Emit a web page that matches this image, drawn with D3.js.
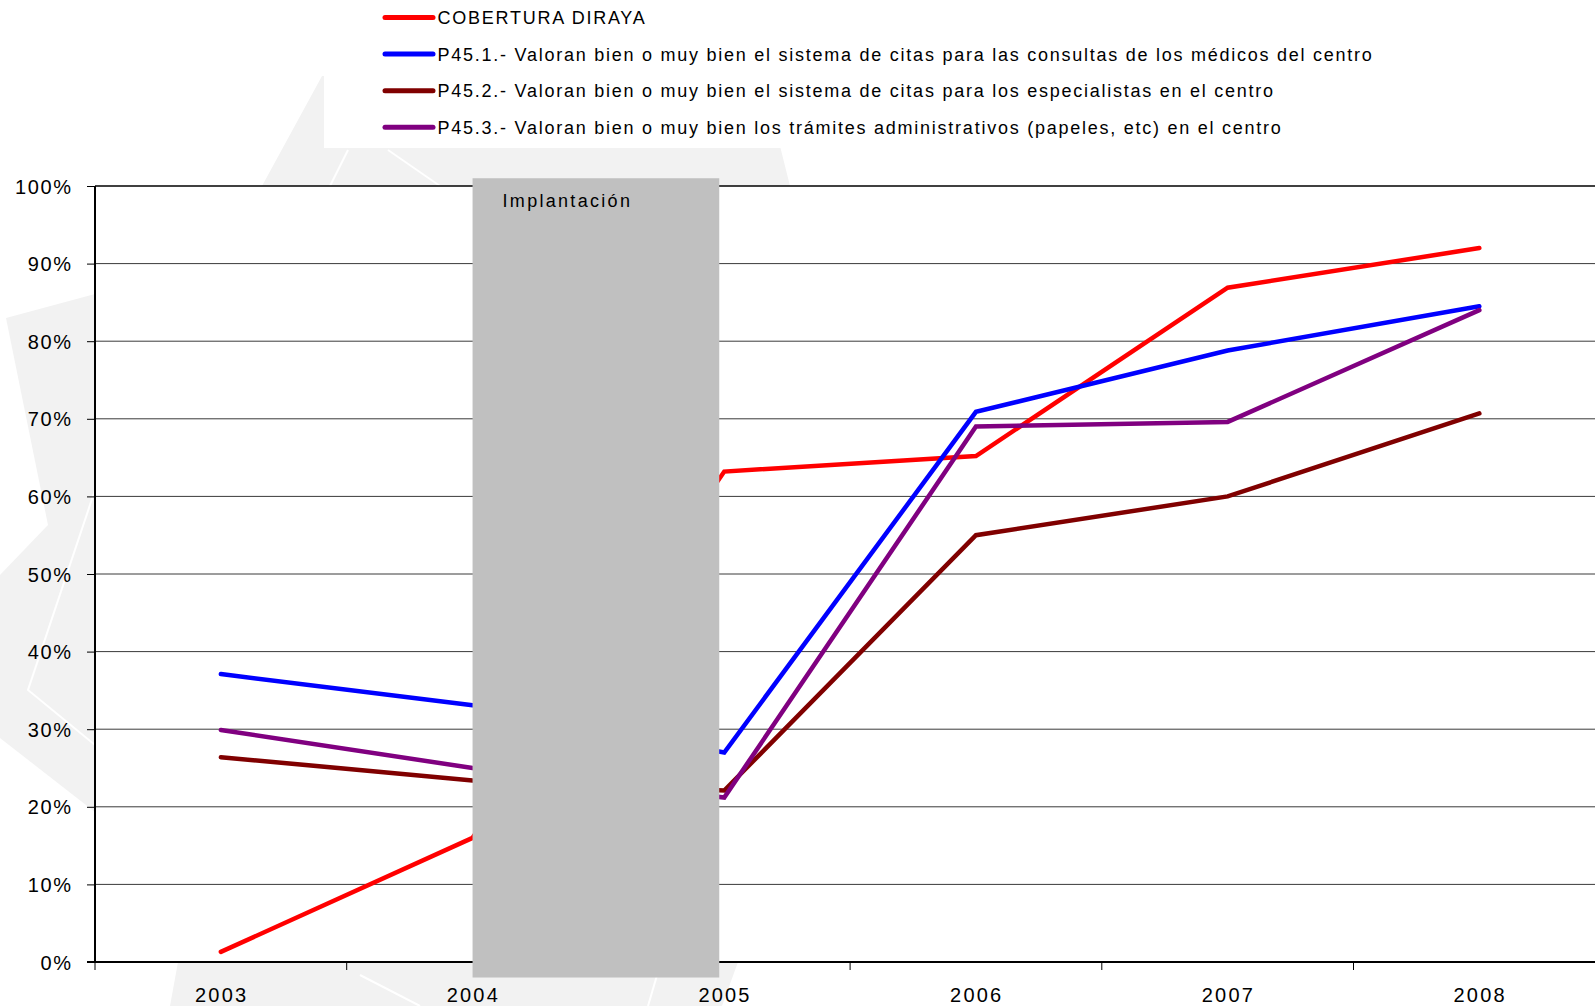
<!DOCTYPE html>
<html>
<head>
<meta charset="utf-8">
<script src="https://cdn.jsdelivr.net/npm/d3@7/dist/d3.min.js"></script>
<style>
  body { margin: 0; background: #fff; }
  svg { display: block; font-family: "Liberation Sans", Arial, sans-serif; }
</style>
</head>
<body>
<div id="chart"></div>
<script>
// data (percent)
const years = ["2003", "2004", "2005", "2006", "2007", "2008"];
const cobertura = [1.3, 16.0, 63.2, 65.2, 86.9, 92.0];
const p451 = [37.1, 33.1, 27.0, 70.9, 78.8, 84.5];
const p452 = [26.4, 23.4, 22.1, 55.0, 60.0, 70.7];
const p453 = [29.9, 25.0, 21.2, 69.0, 69.6, 84.0];

const seriesLabels = [
  "COBERTURA DIRAYA",
  "P45.1.- Valoran bien o muy bien el sistema de citas para las consultas de los médicos del centro",
  "P45.2.- Valoran bien o muy bien el sistema de citas para los especialistas en el centro",
  "P45.3.- Valoran bien o muy bien los trámites administrativos (papeles, etc) en el centro"
];
const seriesColors = ["#ff0000", "#0000ff", "#800000", "#800080"];

const yTicks = [0, 10, 20, 30, 40, 50, 60, 70, 80, 90, 100];

// grey "Implantación" block, spans 2004 -> 2005, from -2% to 101%
const implantYears = ["2004", "2005"];
const implantRange = [-2, 101];
const implantLabel = "Implantación";

const width = 1595;
const height = 1006;
const left = 95;
const step = 251.7;
const tickLs = 1.6;

const series = [cobertura, p451, p452, p453].map((vals, i) => ({
  name: seriesLabels[i],
  color: seriesColors[i],
  values: years.map((yr, j) => ({ year: yr, v: vals[j] }))
}));

const svg = d3.select("#chart")
  .append("svg")
  .attr("width", width)
  .attr("height", height);

const x = d3.scaleBand()
  .domain(years)
  .range([left, left + step * years.length]);
const xc = d => x(d) + x.bandwidth() / 2;

const y = d3.scaleLinear()
  .domain([0, 100])
  .range([962, 186]);

svg.append("rect").attr("width", width).attr("height", height).attr("fill", "#fff");

// faint watermark behind the chart
const wm = svg.append("g").attr("fill", "#f2f2f2");
wm.append("polygon").attr("points", "322,76 345,76 780,146 790,186 262,186");
wm.append("polygon").attr("points", "6,318 95,294 95,812 0,738 0,575 48,525");
wm.append("polygon").attr("points", "178,962 738,962 722,1006 170,1006");
const wl = svg.append("g").attr("stroke", "#fff").attr("stroke-width", 2).attr("fill", "none");
wl.append("polyline").attr("points", "348,150 330,186");
wl.append("polyline").attr("points", "388,150 440,186");
wl.append("polyline").attr("points", "95,490 28,690 95,745");
wl.append("polyline").attr("points", "360,975 420,1006");
wl.append("polyline").attr("points", "660,965 648,1006");

// legend box
svg.append("rect")
  .attr("x", 324).attr("y", 0)
  .attr("width", 1075).attr("height", 148)
  .attr("fill", "#fff");

// plot area
svg.append("rect")
  .attr("x", left).attr("y", y(100))
  .attr("width", width - left).attr("height", y(0) - y(100))
  .attr("fill", "#fff");

// gridlines
svg.append("g")
  .selectAll("line")
  .data(yTicks.filter(t => t > 0))
  .enter()
  .append("line")
  .attr("x1", left).attr("x2", width)
  .attr("y1", d => y(d)).attr("y2", d => y(d))
  .attr("stroke", d => d === 100 ? "#000" : "#3a3a3a")
  .attr("stroke-width", d => d === 100 ? 1.6 : 1);

// series lines
const line = d3.line()
  .x(d => xc(d.year))
  .y(d => y(d.v));

svg.append("g")
  .selectAll("path")
  .data(series)
  .enter()
  .append("path")
  .attr("d", d => line(d.values))
  .attr("fill", "none")
  .attr("stroke", d => d.color)
  .attr("stroke-width", 4.5)
  .attr("stroke-linecap", "round")
  .attr("stroke-linejoin", "miter");

// y axis
const yAxis = svg.append("g")
  .attr("transform", `translate(${left},0)`)
  .call(d3.axisLeft(y).tickValues(yTicks).tickSize(8).tickFormat(d => d + "%"));
yAxis.select(".domain").attr("stroke", "#000").attr("stroke-width", 2)
  .attr("d", `M0,${y(100)}V${y(0) + 1}`);
yAxis.selectAll(".tick line").attr("stroke", "#000").attr("stroke-width", 1);
yAxis.selectAll(".tick text")
  .attr("x", -24 + tickLs)
  .attr("dy", null)
  .attr("y", 7)
  .attr("fill", "#000")
  .style("font-size", "20px")
  .style("letter-spacing", tickLs + "px")
  .style("font-family", "'Liberation Sans', Arial, sans-serif");

// x axis: baseline, ticks at category boundaries, labels at centres
const xAxis = svg.append("g");
xAxis.append("line")
  .attr("x1", left - 8).attr("x2", width)
  .attr("y1", y(0)).attr("y2", y(0))
  .attr("stroke", "#000").attr("stroke-width", 2);
xAxis.selectAll(".xtick")
  .data(years)
  .enter()
  .append("line")
  .attr("class", "xtick")
  .attr("x1", d => x(d)).attr("x2", d => x(d))
  .attr("y1", y(0)).attr("y2", y(0) + 8)
  .attr("stroke", "#000").attr("stroke-width", 1);
xAxis.selectAll(".xlabel")
  .data(years)
  .enter()
  .append("text")
  .attr("class", "xlabel")
  .attr("x", d => xc(d) + tickLs / 2)
  .attr("y", 1002)
  .attr("text-anchor", "middle")
  .style("font-size", "20px")
  .style("letter-spacing", (tickLs + 0.6) + "px")
  .text(d => d);

// implantation block on top
svg.append("rect")
  .attr("x", xc(implantYears[0]))
  .attr("y", y(implantRange[1]))
  .attr("width", xc(implantYears[1]) - xc(implantYears[0]) - 5)
  .attr("height", y(implantRange[0]) - y(implantRange[1]))
  .attr("fill", "#c0c0c0");

svg.append("text")
  .attr("x", xc(implantYears[0]) + 30)
  .attr("y", 207)
  .style("font-size", "18px")
  .style("letter-spacing", "2.3px")
  .attr("fill", "#000")
  .text(implantLabel);

// legend
const legend = svg.append("g")
  .selectAll("g")
  .data(series)
  .enter()
  .append("g")
  .attr("transform", (d, i) => `translate(0,${24 + i * 36.6})`);

legend.append("line")
  .attr("x1", 385).attr("x2", 433)
  .attr("y1", -6.5).attr("y2", -6.5)
  .attr("stroke", d => d.color)
  .attr("stroke-width", 5)
  .attr("stroke-linecap", "round");

legend.append("text")
  .attr("x", 437.5)
  .attr("y", 0)
  .style("font-size", "18px")
  .style("letter-spacing", "1.75px")
  .attr("fill", "#000")
  .text(d => d.name);
</script>
</body>
</html>
